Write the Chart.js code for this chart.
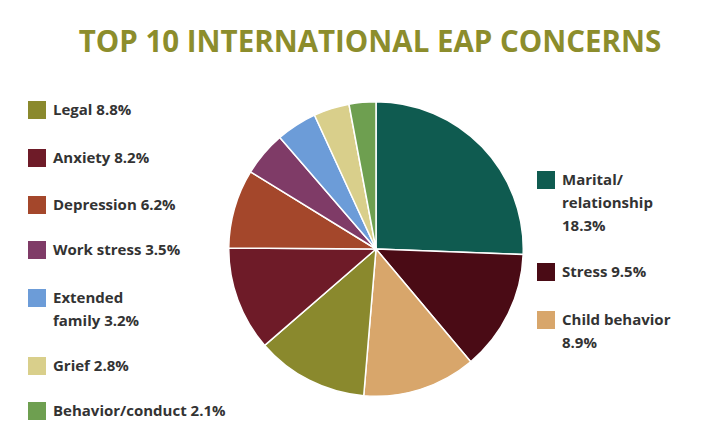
<!DOCTYPE html><html><head><meta charset="utf-8">
<script src="https://cdn.jsdelivr.net/npm/chart.js@4"></script>
<style>
body{margin:0;width:720px;height:447px;background:#fff;position:relative;overflow:hidden;font-family:"Open Sans",sans-serif}
#t{position:absolute;top:20px;left:0;width:740px;text-align:center;color:#8c8d2c;font-weight:700;font-size:29.5px}
#cw{position:absolute;left:228px;top:101px;width:296px;height:296px}
.l{position:absolute;font-weight:700;font-size:15px;color:#333;line-height:23px}
.s{position:absolute;width:18px;height:18px}
</style></head><body>
<div id="t">TOP 10 INTERNATIONAL EAP CONCERNS</div>
<div id="cw"><canvas id="c"></canvas></div>
<div id="lg"></div>
<script>
const labels=["Marital/ relationship","Stress","Child behavior","Legal","Anxiety","Depression","Work stress","Extended family","Grief","Behavior/conduct"];
const values=[18.3,9.5,8.9,8.8,8.2,6.2,3.5,3.2,2.8,2.1];
const colors=["#0f5b50","#4a0b15","#d8a66b","#8a892d","#6e1b28","#a4472b","#7f3b67","#6c9cd8","#d9cf8b","#6e9f50"];
const legendText=["Marital/<br>relationship<br>18.3%","Stress 9.5%","Child behavior<br>8.9%","Legal 8.8%","Anxiety 8.2%","Depression 6.2%","Work stress 3.5%","Extended<br>family 3.2%","Grief 2.8%","Behavior/conduct 2.1%"];
const pos=[[537,168],[537,260],[537,308],[28,98],[28,146],[28,193],[28,238],[28,286],[28,354],[28,399]];
let h="";
pos.forEach((p,i)=>{h+=`<div class="s" style="left:${p[0]}px;top:${p[1]+3}px;background:${colors[i]}"></div><div class="l" style="left:${p[0]+25}px;top:${p[1]}px">${legendText[i]}</div>`;});
document.getElementById("lg").innerHTML=h;
new Chart(document.getElementById("c"),{type:"pie",data:{labels,datasets:[{data:values,backgroundColor:colors,borderColor:"#fff",borderWidth:1.5}]},
options:{responsive:true,maintainAspectRatio:false,animation:false,plugins:{legend:{display:false},tooltip:{enabled:false}}}});
</script></body></html>
